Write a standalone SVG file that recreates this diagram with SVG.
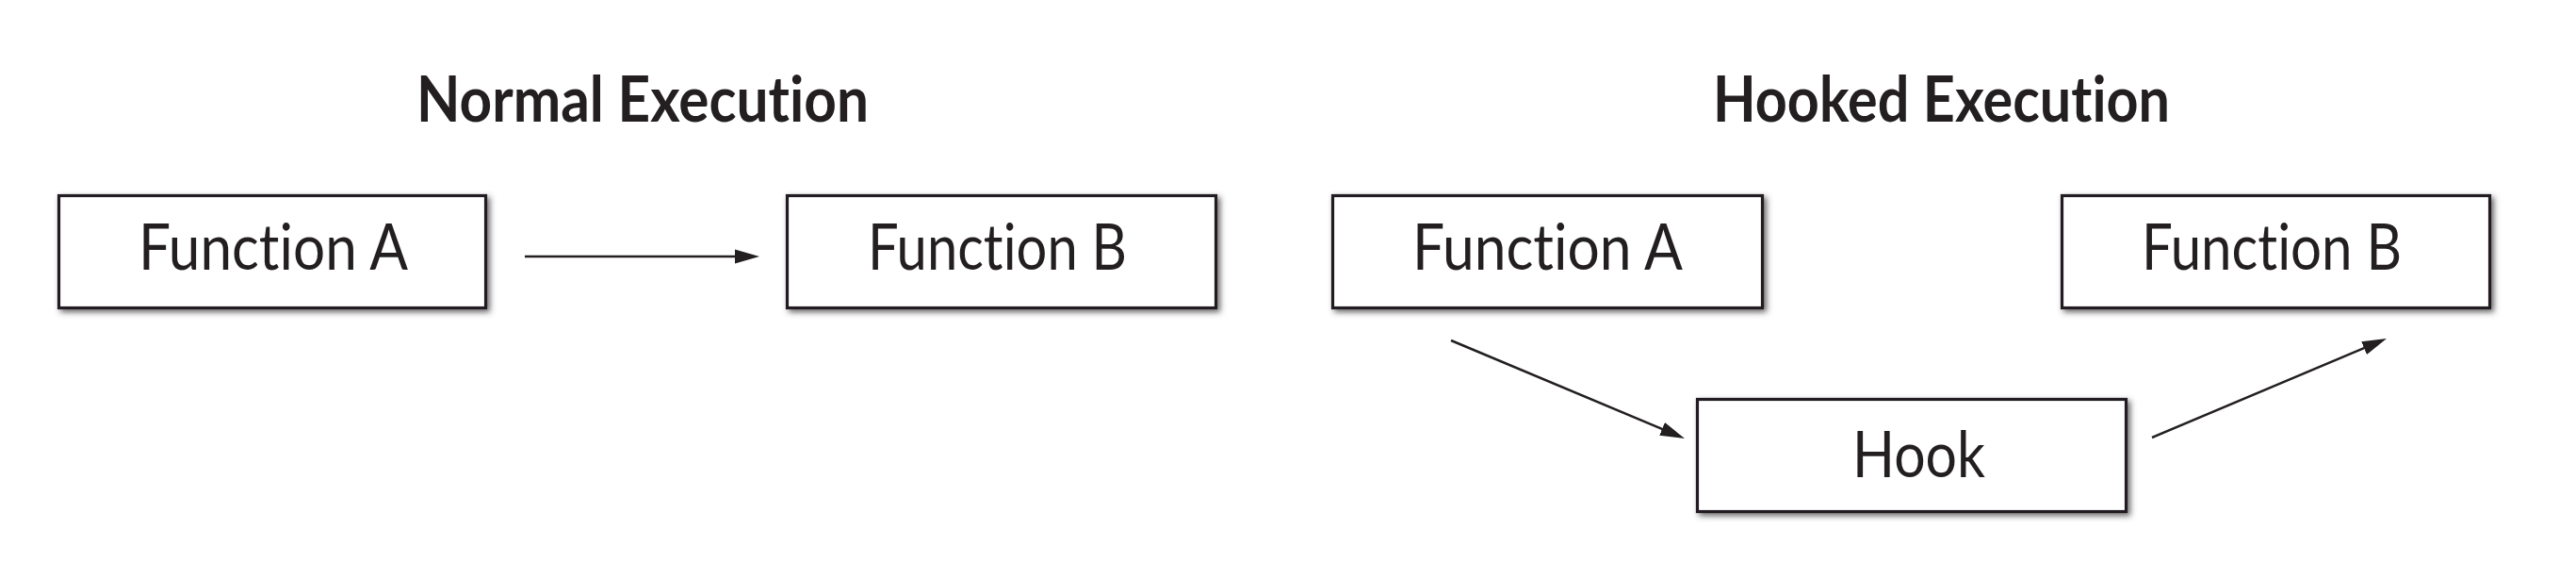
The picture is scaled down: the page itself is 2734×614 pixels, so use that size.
<svg xmlns="http://www.w3.org/2000/svg" width="2734" height="614" viewBox="0 0 2734 614">
  <style>
    .box { fill: #ffffff; stroke: #231f20; stroke-width: 3.2; filter: url(#shadow); }
    .label { font-family: Lato, "Open Sans", "Liberation Sans", sans-serif; font-size: 68px; font-weight: 400; fill: #231f20; font-variant-ligatures: none; font-feature-settings: "liga" 0, "clig" 0; }
    .title { font-family: Lato, "Open Sans", "Liberation Sans", sans-serif; font-size: 66px; font-weight: bold; fill: #231f20; font-variant-ligatures: none; font-feature-settings: "liga" 0, "clig" 0; }
    .conn { stroke: #231f20; stroke-width: 2.5; fill: none; marker-end: url(#arrow); }
  </style>
  <defs>
    <filter id="shadow" x="-10%" y="-20%" width="125%" height="150%">
      <feDropShadow dx="3" dy="3" stdDeviation="3" flood-color="#444" flood-opacity="0.8"/>
    </filter>
    <marker id="arrow" markerUnits="userSpaceOnUse" markerWidth="28" markerHeight="18" refX="16" refY="8" orient="auto">
      <path d="M0,0.5 L26,8 L0,15.5 Z" fill="#231f20"/>
    </marker>
  </defs>
  <rect width="2734" height="614" fill="#ffffff"/>

  <g id="title-normal">
    <text class="title" x="442" y="129" textLength="480" lengthAdjust="spacingAndGlyphs">Normal Execution</text>
  </g>
  <g id="title-hooked">
    <text class="title" x="1818" y="129" textLength="485" lengthAdjust="spacingAndGlyphs">Hooked Execution</text>
  </g>

  <g id="normal-function-a">
    <rect class="box" x="62.5" y="207.5" width="453" height="119"/>
    <text class="label" x="147" y="286" textLength="286" lengthAdjust="spacingAndGlyphs">Function A</text>
  </g>
  <g id="normal-function-b">
    <rect class="box" x="835.5" y="207.5" width="455" height="119"/>
    <text class="label" x="921" y="286" textLength="275" lengthAdjust="spacingAndGlyphs">Function B</text>
  </g>
  <g id="hooked-function-a">
    <rect class="box" x="1414.5" y="207.5" width="456" height="119"/>
    <text class="label" x="1499" y="286" textLength="287" lengthAdjust="spacingAndGlyphs">Function A</text>
  </g>
  <g id="hooked-function-b">
    <rect class="box" x="2188.5" y="207.5" width="454" height="119"/>
    <text class="label" x="2273" y="286" textLength="276" lengthAdjust="spacingAndGlyphs">Function B</text>
  </g>
  <g id="hook">
    <rect class="box" x="1801.5" y="423.5" width="455" height="119"/>
    <text class="label" x="1966" y="506" textLength="141" lengthAdjust="spacingAndGlyphs">Hook</text>
  </g>

  <g id="connectors">
    <line class="conn" x1="557" y1="272" x2="796" y2="272"/>
    <line class="conn" x1="1540" y1="361" x2="1778.8" y2="461.1"/>
    <line class="conn" x1="2284" y1="464" x2="2523.8" y2="362.9"/>
  </g>
</svg>
